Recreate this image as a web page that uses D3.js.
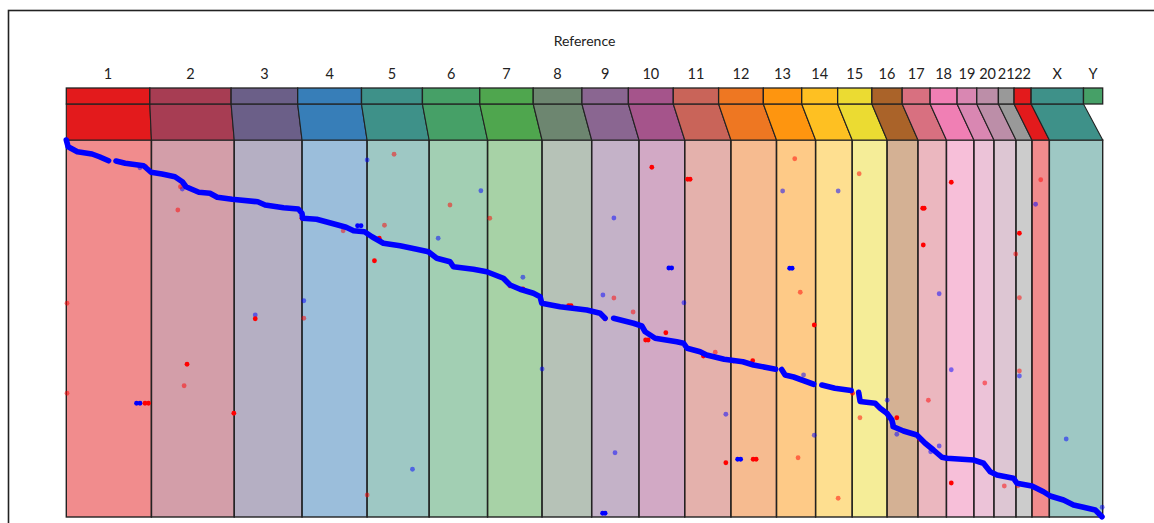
<!DOCTYPE html>
<html>
<head>
<meta charset="utf-8">
<script src="https://cdn.jsdelivr.net/npm/d3@7"></script>
<style>
  html, body { margin: 0; padding: 0; background: #fff; }
  svg { display: block; font-family: Lato, "Open Sans", sans-serif; }
</style>
</head>
<body>
<svg id="chart" width="1154" height="523"></svg>
<script>
// Reference chromosomes (GRCh38) and their lengths in Mb
const refChroms = ["1","2","3","4","5","6","7","8","9","10","11","12","13","14","15","16","17","18","19","20","21","22","X","Y"];
const refLengthsMb = [248.96,242.19,198.30,190.21,181.54,170.81,159.35,145.14,138.39,133.80,135.09,133.28,114.36,107.04,101.99,90.34,83.26,80.37,58.62,64.44,46.71,50.82,156.04,57.23];
const chromColors = ["#e31a1c","#a73d53","#6b5f88","#377eb8","#3e9189","#46a067","#4fa64e","#6d8670","#8a6691","#a5548b",
                     "#c96459","#ee7722","#fe950f","#fec022","#ebdb32","#aa6329","#d87080","#f07fb4","#d987b2","#bc8ea8",
                     "#999999","#e31a1c","#3e9189","#46a067"];
// Chromosomes that carry alignments (the dot-plot columns)
const plottedChroms = refChroms.filter(c => c !== "Y");
// Query assembly length in Mb (vertical axis)
const queryLengthMb = 3016;

// Main collinear alignment blocks: [reference Mb (cumulative), query Mb (cumulative)]
const mainBlocks = [
  [[0,0],[5.3,54],[32.2,94],[75.2,112],[96.8,134],[123.7,166]],
  [[145.4,168],[172.3,186],[226.1,206],[234.6,226],[247.8,258],[279.9,272],[317.7,294],[339.3,334],[350.1,374],
   [387.6,418],[420.1,426],[441.4,458],[484.7,474],[559.9,494],[581.5,520],[635.4,542],[678.4,552],[689.2,586],
   [691.2,626],[732.2,634],[775.5,666],[818.5,698],[840.1,726],[872.3,734],[878.7,746],[894.0,774],[927.3,826],
   [976.1,846],[1025,874],[1058.9,894],[1083.5,946],[1122.4,974],[1132.1,1014],[1190.6,1034],[1229.8,1054],
   [1278.3,1106],[1297.9,1160],[1327.2,1194],[1366.1,1226],[1385.7,1254],[1390.6,1306],[1444.2,1334],
   [1522.3,1360],[1561.2,1386],[1575.8,1426]],
  [[1600.7,1426],[1658.6,1466],[1683.2,1488],[1692.9,1534],[1722.1,1586],[1785.5,1614],[1805.4,1626],
   [1815.7,1666],[1853.7,1694],[1872.7,1720],[1923.9,1754],[1978.6,1774],[2009.6,1800],[2074.6,1834]],
  [[2092.1,1836],[2102.3,1880],[2127.2,1896],[2185.7,1954]],
  [[2209.7,1960],[2247.7,1986],[2295.4,2004]],
  [[2317.3,2020],[2321.7,2092],[2365.6,2106],[2380.2,2146],[2399.8,2186],[2414.4,2240],[2419.1,2294],
   [2448.4,2328],[2487.6,2360],[2511.9,2426],[2536.2,2480],[2560.8,2538],[2575.4,2546],[2653.3,2560],
   [2682.5,2586],[2702.1,2654],[2721.7,2680],[2770.2,2706],[2780.2,2746],[2824.1,2768],[2858,2814],
   [2877.6,2848],[2916.5,2880],[2945.8,2920],[2975,2938],[3009.3,2960],[3028.9,3014]]
];

// Off-diagonal hits: [reference Mb, query Mb, strand, mapping quality]
const extraHits = [
  [879.9,160,"+",20],[1212.5,406,"+",20],[1087.6,786,"+",20],[1335.4,1098,"+",20],[339.3,392,"+",20],
  [215.3,222,"+",20],[552.6,1400,"+",20],[694.7,1286,"+",20],[1012.4,2634,"+",20],[1391.5,1832,"+",20],
  [1601.5,624,"+",20],[1569.4,1240,"+",20],[1806.3,1302,"+",20],[1604.8,2502,"+",20],[1928.9,2194,"+",20],
  [2095,408,"+",20],[2187.5,2362,"+",20],[2257.4,408,"+",20],[2400.7,2082,"+",20],[2552.8,1230,"+",20],
  [2588.2,1838,"+",20],[2787.4,1888,"+",20],[2834.8,514,"+",20],[2924.3,2392,"+",20],[3029.6,2938,"+",20],
  [2528,2494,"+",20],[2552.8,2448,"+",20],[2428.9,2354,"+",20],[2416,2294,"+",20],[2156.2,1880,"+",20],
  [2317.4,2014,"+",20],
  [851.8,686,"+",60],[862,686,"+",60],[205.4,2106,"+",60],[215.6,2106,"+",60],[1762.2,1024,"+",60],[1770.4,1024,"+",60],
  [1568.5,2986,"+",60],[1575.8,2986,"+",60],[1963.4,2554,"+",60],[1972.2,2554,"+",60],[2115.5,1026,"+",60],[2122.8,1026,"+",60],
  [901.2,966,"-",60],[353.1,1794,"-",60],[230.2,2106,"-",60],[240.5,2106,"-",60],[490,2186,"-",60],[552.6,1430,"-",60],
  [1712.4,218,"-",60],[1817.1,314,"-",60],[1824.4,314,"-",60],[1753.4,1542,"-",60],[1694.3,1600,"-",60],[1701.6,1600,"-",60],
  [1928.9,2582,"-",60],[2008.7,2554,"-",60],[2017.5,2554,"-",60],[2187.5,1480,"-",60],[2428.9,2222,"-",60],
  [2504.6,546,"-",60],[2509,546,"-",60],[2506.3,840,"-",60],[2588.2,338,"-",60],[2588.2,2744,"-",60],[2787.4,746,"-",60],
  [2576.2,2546,"-",60],[1469,1326,"-",60],[1476.3,1326,"-",60],[1297.9,1166,"-",60],[1335.4,1192,"-",60],
  [231.4,214,"-",60],[1575.8,1430,"-",60],[2007.5,1766,"-",60],[1863.3,1728,"-",60],[689.2,626,"-",60],
  [915.3,786,"-",60],[2495.5,2392,"-",60],[2299.5,2026,"-",40],[1951.7,1768,"-",40],
  [958.6,114,"-",20],[1122.1,520,"-",20],[1238.5,626,"-",20],[930.5,682,"-",20],[809.7,726,"-",20],
  [326.2,560,"-",20],[333.8,374,"-",20],[2,1306,"-",20],[2,2026,"-",20],[344.6,1966,"-",20],[694.7,1426,"-",20],
  [879.9,2840,"-",20],[1601.5,1264,"-",20],[1657.7,1376,"-",20],[2130.4,150,"-",20],[2146.5,1218,"-",20],
  [2140.1,2542,"-",20],[2257.4,2866,"-",20],[2318.8,270,"-",20],[2321.1,2222,"-",20],[2521.2,2082,"-",20],
  [2686.2,1944,"-",20],[2776.6,912,"-",20],[2787.4,1262,"-",20],[2787.4,1848,"-",20],[2849.8,318,"-",20],
  [2743.3,2768,"-",20],[2783.1,2766,"-",20],[1897.9,1698,"-",20]
];

const svg = d3.select("#chart");

const plotLeft = 66.3, plotRight = 1102.7;
const barTop = 88, barBottom = 104, colTop = 140, colBottom = 517;

// Cumulative offsets
function cumulative(names, lens) {
  let acc = 0;
  return names.map((n, i) => { const s = acc; acc += lens[i]; return { name: n, start: s, end: acc, len: lens[i], idx: i }; });
}
const refLayout = cumulative(refChroms, refLengthsMb);
const refTotal = d3.sum(refLengthsMb);
const plotLens = plottedChroms.map(c => refLengthsMb[refChroms.indexOf(c)]);
const plotLayout = cumulative(plottedChroms, plotLens);
const plotTotal = d3.sum(plotLens);

const xTop = d3.scaleLinear().domain([0, refTotal]).range([plotLeft, plotRight]);
const xPlot = d3.scaleLinear().domain([0, plotTotal]).range([plotLeft, plotRight]);
const yQry = d3.scaleLinear().domain([0, queryLengthMb]).range([colTop, colBottom]);
const color = d3.scaleOrdinal().domain(refChroms).range(chromColors);
const strandColor = d3.scaleOrdinal().domain(["+", "-"]).range(["#0000ff", "#ff0000"]);
const mapqOpacity = d3.scaleLinear().domain([0, 60]).range([0.25, 1]);

// Outer frame
svg.append("rect")
  .attr("x", 8.5).attr("y", 10.5).attr("width", 1200).attr("height", 600)
  .attr("fill", "none").attr("stroke", "#222").attr("stroke-width", 1.6);

// Title
svg.append("text")
  .attr("x", (plotLeft + plotRight) / 2).attr("y", 46)
  .attr("text-anchor", "middle").attr("font-size", 14).attr("fill", "#222")
  .text("Reference");

// Chromosome labels
svg.append("g").selectAll("text").data(refLayout).join("text")
  .attr("x", d => xTop((d.start + d.end) / 2)).attr("y", 79)
  .attr("text-anchor", "middle").attr("font-size", 14.5).attr("fill", "#222")
  .text(d => d.name);

// Dot-plot columns (lighter tint)
const plotByName = new Map(plotLayout.map(d => [d.name, d]));
svg.append("g").selectAll("rect").data(plotLayout).join("rect")
  .attr("x", d => xPlot(d.start)).attr("y", colTop)
  .attr("width", d => xPlot(d.end) - xPlot(d.start)).attr("height", colBottom - colTop)
  .attr("fill", d => color(d.name)).attr("fill-opacity", 0.5)
  .attr("stroke", "#222").attr("stroke-width", 1.4);

// Connectors from the reference bar to the columns
svg.append("g").selectAll("path").data(refLayout.filter(d => plotByName.has(d.name))).join("path")
  .attr("d", d => {
    const p = plotByName.get(d.name);
    return `M${xTop(d.start)},${barBottom}L${xTop(d.end)},${barBottom}L${xPlot(p.end)},${colTop}L${xPlot(p.start)},${colTop}Z`;
  })
  .attr("fill", d => color(d.name))
  .attr("stroke", "#222").attr("stroke-width", 1.1);

// Reference bar
svg.append("g").selectAll("rect").data(refLayout).join("rect")
  .attr("x", d => xTop(d.start)).attr("y", barTop)
  .attr("width", d => xTop(d.end) - xTop(d.start)).attr("height", barBottom - barTop)
  .attr("fill", d => color(d.name))
  .attr("stroke", "#222").attr("stroke-width", 1.3);

// Off-diagonal hits
svg.append("g").selectAll("circle").data(extraHits).join("circle")
  .attr("cx", d => xPlot(d[0])).attr("cy", d => yQry(d[1])).attr("r", 2.4)
  .attr("fill", d => strandColor(d[2])).attr("fill-opacity", d => mapqOpacity(d[3]));

// Main collinear blocks
const line = d3.line().x(d => xPlot(d[0])).y(d => yQry(d[1])).curve(d3.curveLinear);
svg.append("g").selectAll("path").data(mainBlocks).join("path")
  .attr("d", line)
  .attr("fill", "none").attr("stroke", "#0000ff").attr("stroke-width", 5.6)
  .attr("stroke-linejoin", "round").attr("stroke-linecap", "round");
</script>
</body>
</html>
